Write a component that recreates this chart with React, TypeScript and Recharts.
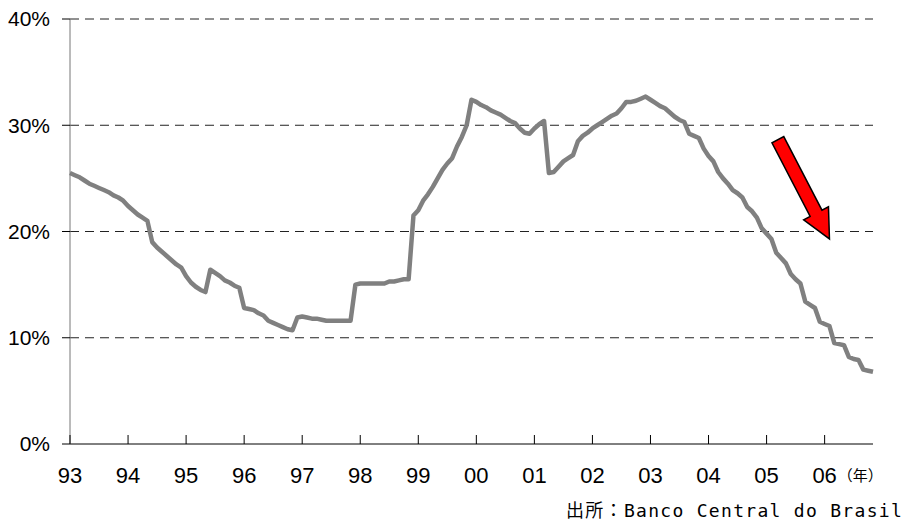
import React from 'react';
import { LineChart, Line, XAxis, YAxis, CartesianGrid, ReferenceDot } from 'recharts';

// Year tick labels (January of each year), monthly data starting Jan 1993
const YEAR_LABELS = ['93', '94', '95', '96', '97', '98', '99', '00', '01', '02', '03', '04', '05', '06'];
const YEAR_TICKS = [0, 12, 24, 36, 48, 60, 72, 84, 96, 108, 120, 132, 144, 156];
const Y_TICKS = [0, 10, 20, 30, 40];
const GRID_VALUES = [10, 20, 30, 40];
const UNIT_LABEL = '（年）';
const SOURCE_TEXT = '出所：Banco Central do Brasil';

// Monthly values (%)
const R1993 = [25.5, 25.3, 25.1, 24.8, 24.5, 24.3, 24.1, 23.9, 23.7, 23.4, 23.2, 22.9];
const R1994 = [22.4, 22.0, 21.6, 21.3, 21.0, 19.0, 18.5, 18.1, 17.7, 17.3, 16.9, 16.6];
const R1995 = [15.8, 15.2, 14.8, 14.5, 14.3, 16.4, 16.1, 15.8, 15.4, 15.2, 14.9, 14.7];
const R1996 = [12.8, 12.7, 12.6, 12.3, 12.1, 11.6, 11.4, 11.2, 11.0, 10.8, 10.7, 11.9];
const R1997 = [12.0, 11.9, 11.8, 11.8, 11.7, 11.6, 11.6, 11.6, 11.6, 11.6, 11.6, 15.0];
const R1998 = [15.1, 15.1, 15.1, 15.1, 15.1, 15.1, 15.3, 15.3, 15.4, 15.5, 15.5, 21.5];
const R1999 = [22.0, 22.9, 23.5, 24.2, 25.0, 25.8, 26.4, 26.9, 28.0, 28.9, 30.0, 32.4];
const R2000 = [32.2, 31.9, 31.7, 31.4, 31.2, 31.0, 30.7, 30.4, 30.2, 29.7, 29.3, 29.2];
const R2001 = [29.7, 30.1, 30.4, 25.5, 25.6, 26.1, 26.6, 26.9, 27.2, 28.5, 29.0, 29.3];
const R2002 = [29.7, 30.0, 30.3, 30.6, 30.9, 31.1, 31.6, 32.2, 32.2, 32.3, 32.5, 32.7];
const R2003 = [32.4, 32.1, 31.8, 31.6, 31.2, 30.8, 30.5, 30.3, 29.2, 29.0, 28.8, 27.8];
const R2004 = [27.1, 26.6, 25.6, 25.0, 24.5, 23.9, 23.6, 23.2, 22.3, 21.9, 21.3, 20.3];
const R2005 = [19.8, 19.3, 18.0, 17.5, 17.0, 16.0, 15.5, 15.1, 13.4, 13.1, 12.8, 11.5];
const R2006 = [11.3, 11.1, 9.5, 9.4, 9.3, 8.2, 8.0, 7.9, 7.0, 6.9, 6.8];

const RATES = [
  ...R1993, ...R1994, ...R1995, ...R1996, ...R1997, ...R1998, ...R1999,
  ...R2000, ...R2001, ...R2002, ...R2003, ...R2004, ...R2005, ...R2006,
];

// Arrow annotation tip (month index, value)
const ARROW_TIP_MONTH = 157;
const ARROW_TIP_VALUE = 19.3;

const data = RATES.map((v, i) => ({ m: i, rate: v }));

const FONT = '"Liberation Sans", Arial, sans-serif';

const XTick = (props: any) => {
  const { x, y, payload } = props;
  const idx = YEAR_TICKS.indexOf(payload.value);
  const label = YEAR_LABELS[idx];
  return (
    <g>
      <line x1={x} y1={y} x2={x} y2={y - 9} stroke="#000" strokeWidth={1} />
      <text x={x} y={y + 39} textAnchor="middle" fontSize={22} fill="#000" fontFamily={FONT}>
        {label}
      </text>
      {idx === YEAR_LABELS.length - 1 && (
        <text x={x + 13} y={y + 37} fontSize={15} fill="#000" fontFamily='"Noto Sans CJK JP", sans-serif'>
          {UNIT_LABEL}
        </text>
      )}
    </g>
  );
};

const ArrowShape = (props: any) => {
  const { cx, cy } = props;
  if (cx == null || cy == null) return null;
  const pts: [number, number][] = [
    [0, 0],
    [-1, -32.2],
    [-7.5, -28.8],
    [-45.7, -102.4],
    [-57.5, -96.2],
    [-19.3, -22.6],
    [-25.8, -19.2],
  ];
  const d = pts.map(([dx, dy]) => `${cx + dx},${cy + dy}`).join(' ');
  return <polygon points={d} fill="#ff0000" stroke="#000" strokeWidth={1.5} strokeLinejoin="miter" />;
};

export default function App() {
  return (
    <div style={{ position: 'absolute', left: 0, top: 0, width: 907, height: 528, background: '#fff' }}>
      <LineChart
        width={907}
        height={528}
        data={data}
        margin={{ top: 19, right: 34, bottom: 0, left: 10 }}
      >
        <CartesianGrid
          horizontal={true}
          vertical={false}
          horizontalValues={GRID_VALUES}
          stroke="#222"
          strokeDasharray="9 6"
        />
        <XAxis
          dataKey="m"
          type="number"
          domain={[0, 166]}
          ticks={YEAR_TICKS}
          interval={0}
          height={84}
          tickSize={0}
          tickMargin={0}
          tickLine={false}
          axisLine={{ stroke: '#000', strokeWidth: 1 }}
          tick={<XTick />}
        />
        <YAxis
          type="number"
          domain={[0, 40]}
          ticks={Y_TICKS}
          width={60}
          tickSize={8}
          tickMargin={12}
          tickFormatter={(v: number) => `${v}%`}
          axisLine={{ stroke: '#777', strokeWidth: 1 }}
          tickLine={{ stroke: '#000', strokeWidth: 1 }}
          tick={{ fontSize: 21, fill: '#000', fontFamily: FONT }}
        />
        <Line
          type="linear"
          dataKey="rate"
          stroke="#808080"
          strokeWidth={4.5}
          dot={false}
          strokeLinejoin="round"
          isAnimationActive={false}
        />
        <ReferenceDot
          x={ARROW_TIP_MONTH}
          y={ARROW_TIP_VALUE}
          ifOverflow="visible"
          shape={<ArrowShape />}
        />
      </LineChart>
      <div
        style={{
          position: 'absolute',
          left: 566,
          top: 500,
          fontSize: 18,
          letterSpacing: 1.3,
          whiteSpace: 'nowrap',
          color: '#000',
          fontFamily: '"DejaVu Sans Mono", "Noto Sans CJK JP", monospace',
          lineHeight: '22px',
        }}
      >
        {SOURCE_TEXT}
      </div>
    </div>
  );
}
